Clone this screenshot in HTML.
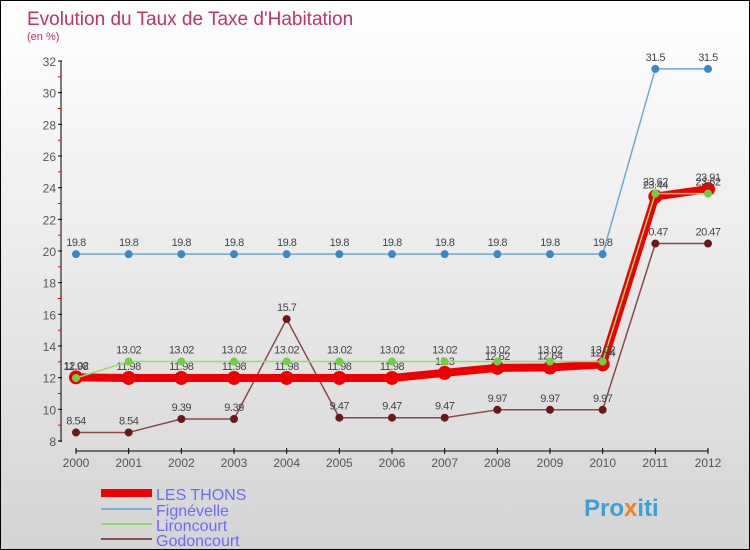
<!DOCTYPE html>
<html><head><meta charset="utf-8"><style>
body{margin:0}
#c{position:relative;width:748px;height:548px;border:1px solid #000;background:linear-gradient(#fff,#d4d4d4);font-family:"Liberation Sans",sans-serif;overflow:hidden}
</style></head><body>
<div id="c">
<svg id="s" width="748" height="548" xmlns="http://www.w3.org/2000/svg">
<text x="26" y="24" font-size="19" fill="#c0306a">Evolution du Taux de Taxe d'Habitation</text>
<text x="26" y="39" font-size="11" fill="#c0306a">(en %)</text>
<g id="axes"></g><g id="series"></g>
<g>
<rect x="100" y="488" width="51" height="8" fill="#e00"/>
<text x="155" y="499" font-size="16" fill="#6a6aff">LES THONS</text>
<line x1="100" y1="508" x2="151" y2="508" stroke="#7fb0d8" stroke-width="2"/>
<text x="155" y="515" font-size="16" fill="#6a6aff">Fignévelle</text>
<line x1="100" y1="523" x2="151" y2="523" stroke="#8fe060" stroke-width="2"/>
<text x="155" y="530" font-size="16" fill="#6a6aff">Lironcourt</text>
<line x1="100" y1="538" x2="151" y2="538" stroke="#8a5050" stroke-width="2"/>
<text x="155" y="545" font-size="16" fill="#6a6aff">Godoncourt</text>
</g>
<text x="583" y="515" font-size="24" font-weight="bold" fill="#3aa0d8">Pro<tspan fill="#f08020">x</tspan>iti</text>
</svg></div>
<script>
const years=[2000,2001,2002,2003,2004,2005,2006,2007,2008,2009,2010,2011,2012];
const yTicks=[8,10,12,14,16,18,20,22,24,26,28,30,32];
const lesThons=[12.02,11.98,11.98,11.98,11.98,11.98,11.98,12.3,12.62,12.64,12.84,23.44,23.91];
const fignevelle=[19.8,19.8,19.8,19.8,19.8,19.8,19.8,19.8,19.8,19.8,19.8,31.5,31.5];
const lironcourt=[11.98,13.02,13.02,13.02,13.02,13.02,13.02,13.02,13.02,13.02,13.02,23.62,23.62];
const godoncourt=[8.54,8.54,9.39,9.39,15.7,9.47,9.47,9.47,9.97,9.97,9.97,20.47,20.47];
const NS="http://www.w3.org/2000/svg";
const X=i=>75+i*(632/12), Y=v=>440-(v-8)*(380/24);
function mk(t,a,p){const e=document.createElementNS(NS,t);for(const k in a)e.setAttribute(k,a[k]);p.appendChild(e);return e;}
const ax=document.getElementById('axes'),se=document.getElementById('series');
let l=mk('line',{x1:60,y1:60,x2:60,y2:441,stroke:'#000'},ax);


l=mk('line',{x1:75,y1:450,x2:707,y2:450,stroke:'#000'},ax);


yTicks.forEach((v,i)=>{mk('line',{x1:57,y1:Y(v),x2:61,y2:Y(v),stroke:'#000'},ax);
 if(i<yTicks.length-1)mk('line',{x1:57,y1:Y(v+1),x2:60,y2:Y(v+1),stroke:'#e00'},ax);
 const t=mk('text',{x:55,y:Y(v)+5,'font-size':12,fill:'#555','text-anchor':'end'},ax);t.textContent=v;
 
 });
years.forEach((y,i)=>{mk('line',{x1:X(i),y1:447,x2:X(i),y2:453,stroke:'#000'},ax);
 const t=mk('text',{x:X(i),y:466,'font-size':12,fill:'#555','text-anchor':'middle'},ax);t.textContent=y;
 
 });
function draw(d,col,w,r,dot,name){const g=mk('g',{},se);
 
 
 mk('polyline',{points:d.map((v,i)=>X(i)+','+Y(v)).join(' '),fill:'none',stroke:col,'stroke-width':w,'stroke-linejoin':'round'},g);
 d.forEach((v,i)=>{const c=mk('circle',{cx:X(i),cy:Y(v),r:r,fill:dot},g);
  
  
  const t=mk('text',{x:X(i),y:Y(v)-8,'font-size':11,fill:'#444','text-anchor':'middle','letter-spacing':'-0.5'},g);t.textContent=v;});}
draw(godoncourt,'#8a4848',1.5,4,'#6a1818','godoncourt');
draw(fignevelle,'#6fa8d8',1.5,4,'#3a88c8','fignevelle');
draw(lesThons,'#e00',8,7,'#e00','les-thons');
draw(lironcourt,'#90e070',1.5,4,'#70d040','lironcourt');
</script></body></html>
